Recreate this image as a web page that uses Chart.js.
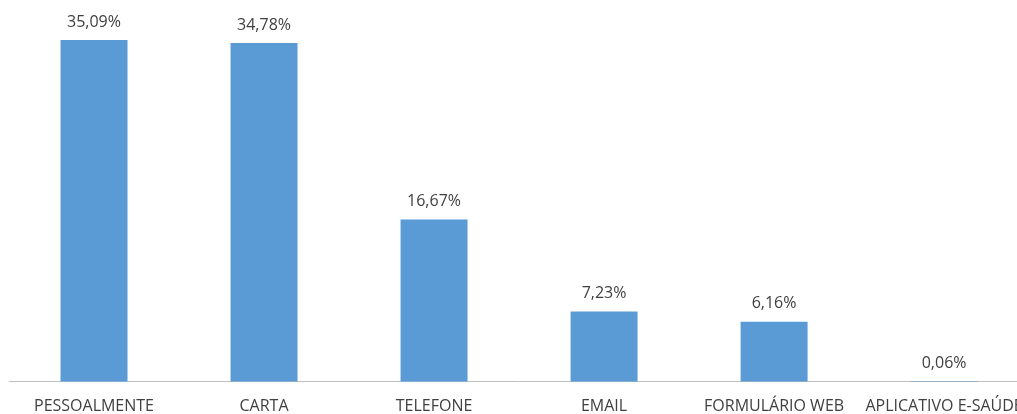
<!DOCTYPE html>
<html>
<head>
<meta charset="utf-8">
<script src="https://cdn.jsdelivr.net/npm/chart.js@4"></script>
<style>
  html, body { margin: 0; padding: 0; background: #fff; overflow: hidden; }
  #wrap { position: relative; width: 1038px; height: 431px; }
</style>
</head>
<body>
<div id="wrap"><canvas id="chart"></canvas></div>
<script>
const categories = ["PESSOALMENTE", "CARTA", "TELEFONE", "EMAIL", "FORMULÁRIO WEB", "APLICATIVO E-SAÚDE"]
const shares = [35.09, 34.78, 16.67, 7.23, 6.16, 0.06]

const FONT = "'Open Sans', 'Noto Sans', sans-serif"

// draws the "35,09%" labels over each bar
const valueLabels = {
  id: "valueLabels",
  afterDatasetsDraw(chart) {
    const ctx = chart.ctx
    const meta = chart.getDatasetMeta(0)
    ctx.save()
    ctx.font = `16px ${FONT}`
    ctx.fillStyle = "#404040"
    ctx.textAlign = "center"
    ctx.textBaseline = "alphabetic"
    meta.data.forEach((bar, i) => {
      const txt = shares[i].toFixed(2).replace(".", ",") + "%"
      ctx.fillText(txt, bar.x, bar.y - 13.5)
    })
    ctx.restore()
  }
}

new Chart(document.getElementById("chart"), {
  type: "bar",
  data: {
    labels: categories,
    datasets: [{
      data: shares,
      backgroundColor: "#5b9bd5",
      borderWidth: 0,
      categoryPercentage: 1,
      barPercentage: 0.394
    }]
  },
  options: {
    responsive: true,
    maintainAspectRatio: false,
    animation: false,
    layout: { padding: { left: 9, right: 3, top: 2, bottom: 0 } },
    plugins: { legend: { display: false }, tooltip: { enabled: false } },
    scales: {
      x: {
        grid: { display: false, drawTicks: false },
        border: { color: "#bfbfbf", width: 1 },
        ticks: {
          color: "#404040",
          font: { family: FONT, size: 16 },
          padding: 15,
          maxRotation: 0,
          autoSkip: false
        }
      },
      y: {
        display: false,
        min: 0,
        max: 39
      }
    }
  },
  plugins: [valueLabels]
})
</script>
</body>
</html>
